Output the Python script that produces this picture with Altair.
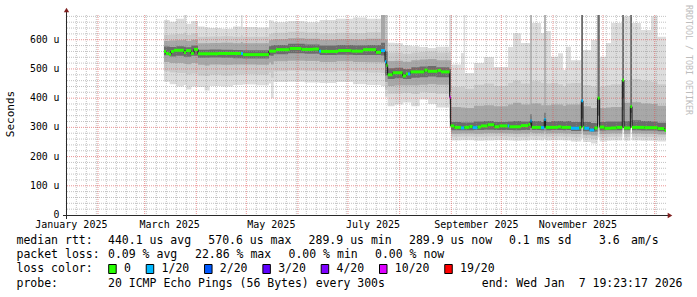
import datetime as dt
import altair as alt
import pandas as pd

MONO = "DejaVu Sans Mono"
END = "2026-01-07T19:23:17Z"
Y_MAX = 684.7

# ---------------- data (microseconds) ----------------
MED_DATES = [
    "2025-03-12T14", "2025-03-13T19", "2025-03-15T12", "2025-03-16T19", "2025-03-18T14", "2025-03-24T14",
    "2025-03-25T19", "2025-03-28T19", "2025-03-30T14", "2025-04-02T00", "2025-04-14T00", "2025-04-27T19",
    "2025-04-29T00", "2025-05-14T14", "2025-05-18T19", "2025-05-27T00", "2025-06-03T00", "2025-06-10T00",
    "2025-06-13T14", "2025-06-14T19", "2025-06-25T00", "2025-07-03T00", "2025-07-10T00", "2025-07-17T19",
    "2025-07-20T19",
    "2025-07-23T05", "2025-07-24T00", "2025-07-24T19", "2025-07-27T19", "2025-08-02T19", "2025-08-04T19",
    "2025-08-06T00", "2025-08-07T12", "2025-08-15T19", "2025-08-17T19", "2025-08-23T19", "2025-08-25T19",
    "2025-08-31T00",
    "2025-08-31T14", "2025-09-02T19", "2025-09-06T19", "2025-09-08T19", "2025-09-11T19", "2025-09-13T19",
    "2025-09-16T19", "2025-09-18T19", "2025-09-22T19", "2025-09-26T19", "2025-09-29T19", "2025-10-04T19",
    "2025-10-05T19", "2025-10-12T19", "2025-10-17T05", "2025-10-18T10", "2025-10-19T05", "2025-10-24T19",
    "2025-10-26T19", "2025-10-27T14", "2025-11-04T00", "2025-11-06T00", "2025-11-11T19", "2025-11-16T19",
    "2025-11-18T00", "2025-11-19T00", "2025-11-19T19", "2025-11-22T19", "2025-11-25T19", "2025-11-27T19",
    "2025-11-29T00", "2025-12-01T19", "2025-12-05T19", "2025-12-09T00", "2025-12-12T14", "2025-12-13T14",
    "2025-12-17T10", "2025-12-18T10", "2025-12-25T19", "2026-01-02T19", "2026-01-06T19",
]
MED_VALUES = [
    560, 553, 550, 560, 564, 556, 563, 553, 567, 552, 553, 553, 549, 561, 566, 570, 567, 568, 561, 560,
    563, 561, 566, 557, 563,
    525, 513, 480, 487, 476, 483, 483, 490, 496, 492, 495, 490, 403,
    305, 300, 298, 300, 303, 299, 301, 305, 309, 302, 305, 305, 302, 306, 310, 322, 300, 299, 327, 300,
    302, 300, 297, 300, 391, 300, 297, 291, 298, 400, 301, 297, 298, 300, 462, 298, 371, 300, 299, 296, 290,
]
MED_LOSS = [
    0, 0, 0, 0, 0, 0, 0, 0, 0, 0, 0, 1, 0, 0, 0, 0, 0, 0, 1, 0, 0, 0, 0, 0, 1,
    1, 0, 0, 0, 0, 0, 1, 0, 0, 0, 0, 0, 10,
    0, 0, 1, 0, 0, 1, 0, 0, 0, 0, 0, 1, 0, 0, 0, 1, 0, 1, 1, 0, 0, 0, 1, 0, 1, 0, 1, 1, 0, 0, 0, 0,
    0, 0, 0, 0, 0, 0, 0, 0, 0,
]

SMOKE_DATES = [
    "2025-03-12T14", "2025-03-16T00", "2025-03-20T00", "2025-03-24T12", "2025-03-26T00", "2025-03-29T00",
    "2025-04-02T00", "2025-04-06T00", "2025-04-09T00", "2025-04-16T00", "2025-04-23T00", "2025-04-27T19",
    "2025-04-28T19", "2025-05-07T00", "2025-05-14T14", "2025-05-15T19", "2025-05-17T10", "2025-05-26T00",
    "2025-06-05T00", "2025-06-14T00", "2025-06-24T00", "2025-07-04T00", "2025-07-12T00", "2025-07-20T19",
    "2025-07-23T05", "2025-07-24T19", "2025-07-29T00", "2025-08-03T00", "2025-08-08T00", "2025-08-13T00",
    "2025-08-18T00", "2025-08-23T00", "2025-08-30T19",
    "2025-08-31T19", "2025-09-01T05", "2025-09-06T19", "2025-09-08T10", "2025-09-09T05", "2025-09-14T14",
    "2025-09-20T14", "2025-09-26T14", "2025-10-05T00", "2025-10-08T00", "2025-10-12T19", "2025-10-18T10",
    "2025-10-19T05", "2025-10-24T19", "2025-10-26T19", "2025-10-27T14", "2025-10-30T19", "2025-11-04T00",
    "2025-11-07T00", "2025-11-08T19", "2025-11-11T19", "2025-11-18T00", "2025-11-19T00", "2025-11-23T19",
    "2025-11-27T19", "2025-11-29T00", "2025-12-02T19", "2025-12-05T19", "2025-12-12T14", "2025-12-13T14",
    "2025-12-17T10", "2025-12-18T10", "2025-12-23T19", "2025-12-29T19", "2026-01-02T19",
]
LO1 = [456, 448, 440, 445, 430, 440, 438, 426, 442, 440, 445, 445, 447, 444, 450, 400, 455, 456, 454, 452,
       455, 448, 445, 442,
       405, 372, 378, 385, 372, 395, 380, 368, 300,
       255, 255, 256, 256, 256, 254, 255, 256, 255, 254, 255, 258, 256, 255, 260, 255, 256, 256, 255, 255,
       252, 262, 250, 245, 265, 252, 254, 255, 290, 254, 300, 255, 254, 254, 252]
LO2 = [492, 488, 486, 486, 480, 484, 478, 476, 480, 478, 480, 480, 482, 480, 488, 470, 492, 494, 492, 490,
       492, 490, 488, 486,
       430, 415, 416, 418, 414, 420, 418, 415, 330,
       268, 268, 269, 269, 269, 268, 269, 270, 268, 267, 268, 272, 270, 268, 274, 268, 269, 269, 268, 268,
       266, 280, 264, 260, 285, 266, 267, 268, 320, 267, 310, 268, 267, 267, 265]
LO3 = [524, 520, 520, 518, 516, 520, 514, 512, 515, 514, 515, 515, 515, 514, 522, 515, 526, 528, 527, 524,
       526, 524, 523, 522,
       455, 442, 444, 444, 444, 446, 448, 446, 380,
       278, 278, 279, 279, 279, 278, 280, 280, 279, 278, 279, 284, 280, 279, 286, 279, 280, 280, 279, 279,
       277, 300, 275, 272, 310, 277, 278, 279, 360, 278, 330, 279, 278, 278, 276]
LO4 = [547, 543, 545, 542, 542, 545, 538, 538, 539, 538, 537, 537, 536, 536, 546, 545, 550, 554, 552, 548,
       549, 548, 548, 546,
       478, 466, 468, 466, 470, 472, 474, 472, 420,
       290, 290, 290, 290, 290, 291, 292, 291, 291, 290, 291, 298, 291, 290, 300, 290, 291, 291, 290, 291,
       288, 330, 287, 285, 340, 289, 290, 290, 400, 290, 350, 290, 289, 289, 287]
HI4 = [577, 575, 578, 576, 574, 580, 566, 566, 567, 566, 565, 565, 564, 564, 578, 580, 582, 586, 584, 580,
       582, 581, 582, 590,
       560, 502, 504, 500, 506, 508, 510, 506, 500,
       318, 318, 317, 317, 317, 320, 322, 318, 320, 322, 320, 345, 322, 318, 350, 318, 322, 322, 320, 322,
       318, 684.7, 318, 315, 684.7, 318, 320, 320, 684.7, 322, 684.7, 324, 322, 320, 316]
HI3 = [596, 597, 598, 600, 596, 600, 588, 588, 589, 590, 588, 592, 588, 588, 598, 600, 602, 605, 603, 600,
       602, 601, 603, 684.7,
       600, 527, 528, 525, 530, 532, 534, 530, 530,
       372, 370, 368, 368, 366, 374, 376, 372, 378, 384, 378, 684.7, 382, 376, 684.7, 376, 378, 378, 374, 378,
       378, 684.7, 372, 366, 684.7, 366, 368, 370, 684.7, 384, 684.7, 386, 382, 380, 374]
HI2 = [616, 618, 620, 625, 616, 622, 610, 610, 611, 612, 610, 616, 610, 610, 620, 622, 624, 627, 625, 622,
       624, 623, 626, 684.7,
       684.7, 556, 556, 552, 556, 558, 560, 556, 560,
       440, 438, 440, 440, 432, 446, 450, 442, 452, 460, 450, 684.7, 458, 452, 684.7, 450, 452, 448, 440, 450,
       452, 684.7, 445, 440, 684.7, 440, 444, 448, 684.7, 460, 684.7, 466, 460, 456, 448]
HI1 = [668, 662, 672, 684.7, 655, 664, 645, 642, 640, 638, 645, 684.7, 644, 642, 668, 666, 660, 664, 660, 668,
       672, 676, 672, 684.7,
       684.7, 590, 588, 580, 578, 575, 572, 576, 684.7,
       684.7, 515, 555, 684.7, 486, 520, 541, 507, 575, 622, 589, 684.7, 657, 623, 684.7, 630, 542, 554, 496, 576,
       530, 684.7, 565, 599, 684.7, 542, 589, 657, 684.7, 680, 684.7, 657, 633, 680, 610]

LOSS_LEVELS = [0, 1, 2, 3, 4, 10, 19]
LOSS_LABELS = ["0", "1/20", "2/20", "3/20", "4/20", "10/20", "19/20"]
LOSS_COLORS = ["#26ff00", "#00b8ff", "#0059ff", "#5e00ff", "#7e00ff", "#dd00ff", "#ff0000"]
SMOKE_COLORS = ["#dddddd", "#cbcbcb", "#a8a8a8", "#6c6c6c"]

Y_TICKS = [0, 100, 200, 300, 400, 500, 600]
X_LABEL_DATES = ["2025-01-16", "2025-03-16", "2025-05-16", "2025-07-16", "2025-09-16", "2025-11-16"]

LEGEND_LINES = [
    [("median rtt:", 16.5), ("440.1 us avg", 108), ("570.6 us max", 208.3), ("289.9 us min", 308.6),
     ("289.9 us now", 409), ("0.1 ms sd", 509), ("3.6", 599), ("am/s", 631)],
    [("packet loss:", 16.5), ("0.09 % avg", 108), ("22.86 % max", 195), ("0.00 % min", 288.5),
     ("0.00 % now", 375)],
    [("loss color:", 16.5)],
    [("probe:", 16.5), ("20 ICMP Echo Pings (56 Bytes) every 300s", 108)],
]
LEGEND_Y = [241, 255, 269, 283.5]
END_TEXT = "end: Wed Jan\u00a0\u00a07 19:23:17 2026"

# ---------------- layout ----------------
PL, PT = 66, 15          # plot origin in the page
W, H = 600, 200


def iso(s):
    return s + ":00:00Z" if len(s) == 13 else s


med = pd.DataFrame({"date": [iso(d) for d in MED_DATES], "value": MED_VALUES, "loss": MED_LOSS})
med["end"] = med["date"].shift(-1).fillna(END)
med_line = pd.concat([med[["date", "value"]],
                      pd.DataFrame({"date": [END], "value": [MED_VALUES[-1]]})], ignore_index=True)

smoke = pd.DataFrame({"date": [iso(d) for d in SMOKE_DATES], "lo1": LO1, "lo2": LO2, "lo3": LO3,
                      "lo4": LO4, "hi4": HI4, "hi3": HI3, "hi2": HI2, "hi1": HI1})
last = smoke.iloc[[-1]].copy()
last["date"] = END
smoke = pd.concat([smoke, last], ignore_index=True)

# grid positions
month_starts = []
y, m = 2025, 2
while (y, m) <= (2026, 1):
    month_starts.append(dt.datetime(y, m, 1))
    m += 1
    if m > 12:
        y, m = y + 1, 1
minor_days = []
d = dt.datetime(2025, 1, 13)
while d < dt.datetime(2026, 1, 8):
    if d not in month_starts:
        minor_days.append(d)
    d += dt.timedelta(days=6)
vmaj = pd.DataFrame({"d": [x.strftime("%Y-%m-%dT00:00:00Z") for x in month_starts]})
vmin = pd.DataFrame({"d": [x.strftime("%Y-%m-%dT00:00:00Z") for x in minor_days]})
hmaj = pd.DataFrame({"v": list(range(100, 700, 100))})
hmin = pd.DataFrame({"v": [v for v in range(20, 685, 20) if v % 100]})
xlab = pd.DataFrame({"d": [s + "T00:00:00Z" for s in X_LABEL_DATES]})
ylab = pd.DataFrame({"v": Y_TICKS})

xscale = alt.Scale(type="utc", nice=False, domain=[
    alt.DateTime(year=2025, month=1, date=12, hours=19, minutes=23, seconds=17, utc=True),
    alt.DateTime(year=2026, month=1, date=7, hours=19, minutes=23, seconds=17, utc=True)])
yscale = alt.Scale(domain=[0, Y_MAX], nice=False, zero=True)


def X(field):
    return alt.X(field, scale=xscale, axis=None)


def Y(field):
    return alt.Y(field, scale=yscale, axis=None)


layers = []
bands = [("lo1", "hi1"), ("lo2", "hi2"), ("lo3", "hi3"), ("lo4", "hi4")]
for i, (lo, hi) in enumerate(bands):
    layers.append(
        alt.Chart(smoke).mark_area(interpolate="step-after", color=SMOKE_COLORS[i], opacity=1).encode(
            x=X("date:T"), y=Y(f"{lo}:Q"), y2=alt.Y2(f"{hi}:Q")))

# grid (drawn over the smoke, like rrdtool)
GRID = dict(strokeDash=[1, 1], strokeWidth=1)
layers.append(alt.Chart(hmin).mark_rule(color="#8f8f8f", opacity=0.55, **GRID).encode(y=Y("v:Q")))
layers.append(alt.Chart(vmin).mark_rule(color="#8f8f8f", opacity=0.55, **GRID).encode(x=X("d:T")))
layers.append(alt.Chart(hmaj).mark_rule(color="#de4f4f", opacity=0.6, **GRID).encode(y=Y("v:Q")))
layers.append(alt.Chart(vmaj).mark_rule(color="#de4f4f", opacity=0.6, **GRID).encode(x=X("d:T")))

# median: thin dark step line + loss coloured blocks
layers.append(alt.Chart(med_line).mark_line(interpolate="step-after", color="#101010", strokeWidth=1).encode(
    x=X("date:T"), y=Y("value:Q")))
layers.append(alt.Chart(med).mark_rule(strokeWidth=3, strokeCap="butt").encode(
    x=X("date:T"), x2="end:T", y=Y("value:Q"),
    color=alt.Color("loss:N", scale=alt.Scale(domain=LOSS_LEVELS, range=LOSS_COLORS), legend=None)))

# tick labels through the scales
layers.append(alt.Chart(xlab).transform_calculate(label="utcFormat(toDate(datum.d), '%B %Y')")
              .mark_text(font=MONO, fontSize=10, color="#000000", align="center", baseline="top")
              .encode(x=X("d:T"), y=alt.value(H + 4.5), text="label:N"))
layers.append(alt.Chart(ylab).transform_calculate(label="datum.v == 0 ? '0\u00a0\u00a0' : datum.v + ' u'")
              .mark_text(font=MONO, fontSize=9.8, color="#000000", align="right", baseline="middle")
              .encode(y=Y("v:Q"), x=alt.value(-6.5), text="label:N"))

# axes lines and arrows
AXIS_C = "#2a2a2a"
ARROW_C = "#7f1f1f"
layers.append(alt.Chart().mark_rule(color=AXIS_C, strokeWidth=1).encode(
    x=alt.value(-3), x2=alt.value(604), y=alt.value(H + 0.5)))
layers.append(alt.Chart().mark_rule(color=AXIS_C, strokeWidth=1).encode(
    x=alt.value(0.5), y=alt.value(-6), y2=alt.value(H + 4)))
layers.append(alt.Chart().mark_point(shape="triangle-up", filled=True, size=28, color=ARROW_C, opacity=1)
              .encode(x=alt.value(0.5), y=alt.value(-5)))
layers.append(alt.Chart().mark_point(shape="triangle-right", filled=True, size=28, color=ARROW_C, opacity=1)
              .encode(x=alt.value(604), y=alt.value(H + 0.5)))

# y title & watermark
layers.append(alt.Chart().mark_text(angle=270, font=MONO, fontSize=11, color="#000000", align="center",
                                    baseline="middle")
              .encode(x=alt.value(10.7 - PL), y=alt.value(114 - PT), text=alt.value("Seconds")))
layers.append(alt.Chart().mark_text(angle=90, font=MONO, fontSize=8.3, color="#bdbdbd", align="left",
                                    baseline="middle")
              .encode(x=alt.value(687.7 - PL), y=alt.value(5 - PT), text=alt.value("RRDTOOL / TOBI OETIKER")))

# legend text
LEG_FS = 11.5
for line, ly in zip(LEGEND_LINES, LEGEND_Y):
    for txt, lx in line:
        layers.append(alt.Chart().mark_text(font=MONO, fontSize=LEG_FS, color="#000000", align="left",
                                            baseline="middle")
                      .encode(x=alt.value(lx - PL), y=alt.value(ly - PT), text=alt.value(txt)))
layers.append(alt.Chart().mark_text(font=MONO, fontSize=LEG_FS, color="#000000", align="right",
                                    baseline="middle")
              .encode(x=alt.value(682.5 - PL), y=alt.value(LEGEND_Y[3] - PT), text=alt.value(END_TEXT)))

# loss colour legend boxes
CHAR_W = 6.93
bx = 108.7
for lab, col in zip(LOSS_LABELS, LOSS_COLORS):
    layers.append(alt.Chart().mark_rect(fill=col, stroke="#000000", strokeWidth=1).encode(
        x=alt.value(bx - PL), x2=alt.value(bx + 7.5 - PL),
        y=alt.value(LEGEND_Y[2] - 4.5 - PT), y2=alt.value(LEGEND_Y[2] + 4.5 - PT)))
    tx = bx + 15.3
    layers.append(alt.Chart().mark_text(font=MONO, fontSize=LEG_FS, color="#000000", align="left",
                                        baseline="middle")
                  .encode(x=alt.value(tx - PL), y=alt.value(LEGEND_Y[2] - PT), text=alt.value(lab)))
    bx = tx + len(lab) * CHAR_W + 15.3

chart = alt.layer(*layers).properties(
    width=W, height=H,
    padding={"left": PL, "top": PT, "right": 697 - PL - W, "bottom": 297 - PT - H},
    autosize=alt.AutoSizeParams(type="none"),
    background="white",
).configure_view(stroke=None)

chart.save("out.html", embed_options={"renderer": "svg", "actions": False})
